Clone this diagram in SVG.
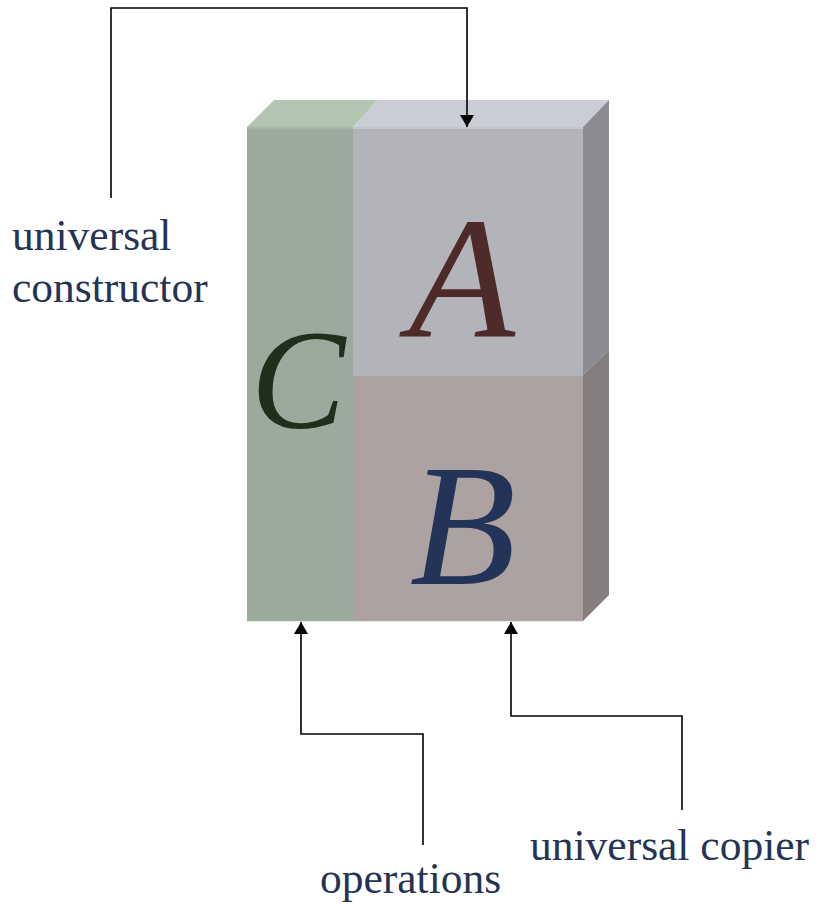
<svg xmlns="http://www.w3.org/2000/svg" width="816" height="906" viewBox="0 0 816 906">
  <defs>
    <marker id="arrow" viewBox="0 0 12 14" refX="12" refY="7" markerWidth="12" markerHeight="14" markerUnits="userSpaceOnUse" orient="auto">
      <path d="M0,0 L12,7 L0,14 Z" fill="#000"/>
    </marker>
  </defs>
  <style>
    .label { font-family: "Liberation Serif", "Times New Roman", serif; font-size: 43.5px; fill: #253355; }
    .big { font-family: "Liberation Serif", "Times New Roman", serif; font-style: italic; }
    .conn { fill: none; stroke: #000; stroke-width: 1.6; marker-end: url(#arrow); }
    .edge { stroke: #e8e8e8; stroke-width: 1; }
  </style>
  <rect width="816" height="906" fill="#fff"/>

  <!-- block C (left column) -->
  <g id="block-C">
    <polygon points="247,127 274,100 378,100 353,127" fill="#b2c6b1"/>
    <rect x="247" y="127" width="106" height="494" fill="#9baa9c"/>
    <line x1="247" y1="127.5" x2="353" y2="127.5" stroke="#a9baa9" stroke-width="2"/>
    <text class="big" x="298" y="428" font-size="142" fill="#1f2f1c" text-anchor="middle">C</text>
  </g>

  <!-- block A (top right) -->
  <g id="block-A">
    <polygon points="353,127 378,100 609,100 583,127" fill="#cbcdd4"/>
    <polygon points="583,127 609,100 609,350 583,375" fill="#8b8b91"/>
    <rect x="353" y="127" width="230" height="248" fill="#b3b4b9"/>
    <line x1="353" y1="128" x2="583" y2="128" stroke="#c6c7cc" stroke-width="2"/>
    <text class="big" x="462" y="337" font-size="174" fill="#4e2a2a" text-anchor="middle">A</text>
  </g>

  <!-- block B (bottom right) -->
  <g id="block-B">
    <polygon points="583,375 609,350 609,595 583,621" fill="#857e7e"/>
    <rect x="353" y="375" width="230" height="246" fill="#aba2a1"/>
    <line x1="353" y1="375.5" x2="583" y2="375.5" stroke="#b8b0af" stroke-width="1"/>
    <text class="big" x="463" y="584" font-size="174" fill="#243358" text-anchor="middle">B</text>
  </g>
  <line class="edge" x1="247" y1="621.5" x2="583" y2="621.5"/>

  <!-- labels -->
  <g id="label-constructor">
    <text class="label" x="12" y="250">universal</text>
    <text class="label" x="12" y="302">constructor</text>
  </g>
  <g id="label-operations">
    <text class="label" x="320" y="893">operations</text>
  </g>
  <g id="label-copier">
    <text class="label" x="530" y="860">universal copier</text>
  </g>

  <!-- connectors -->
  <g id="connectors">
    <path class="conn" d="M111,198 L111,8 L467,8 L467,127"/>
    <path class="conn" d="M423,845 L423,734 L301,734 L301,622"/>
    <path class="conn" d="M682,810 L682,716 L511,716 L511,622"/>
  </g>
</svg>
